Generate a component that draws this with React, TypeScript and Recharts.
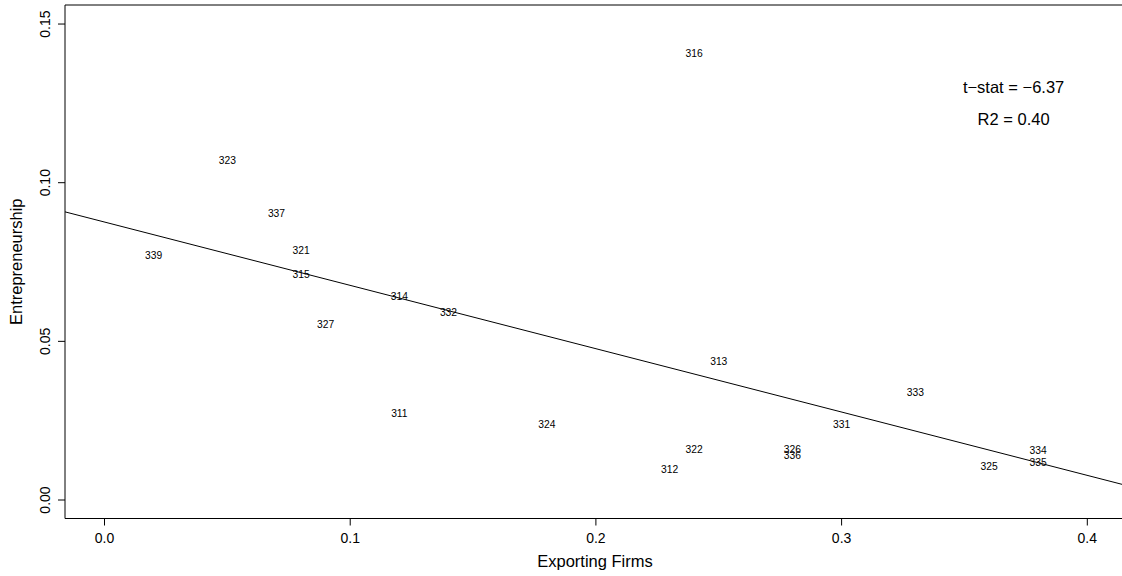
import { ScatterChart, Scatter, XAxis, YAxis, ReferenceLine, ReferenceArea } from 'recharts'

// industry codes, share of exporting firms, entrepreneurship rate
const industries = ['316', '323', '337', '321', '339', '315', '314', '332', '327', '313', '333', '311', '324', '331', '322', '326', '336', '312', '325', '334', '335']
const exporting = [0.24, 0.05, 0.07, 0.08, 0.02, 0.08, 0.12, 0.14, 0.09, 0.25, 0.33, 0.12, 0.18, 0.3, 0.24, 0.28, 0.28, 0.23, 0.36, 0.38, 0.38]
const entrepreneurship = [0.1407, 0.1072, 0.0904, 0.0788, 0.0771, 0.0712, 0.0643, 0.0592, 0.0555, 0.0438, 0.034, 0.0274, 0.024, 0.024, 0.0159, 0.0161, 0.0142, 0.0098, 0.0106, 0.0158, 0.0118]

const xTicks = [0, 0.1, 0.2, 0.3, 0.4]
const yTicks = [0, 0.05, 0.1, 0.15]
// right edge of the box sits past the picture, as in the original
const xDomain: [number, number] = [-0.01608, 0.41575]
const yDomain: [number, number] = [-0.00583, 0.156]

// fitted line
const intercept = 0.0876
const slope = -0.1996

const notes = [
  { x: 0.37, y: 0.13, text: 't\u2212stat = \u22126.37' },
  { x: 0.37, y: 0.12, text: 'R2 = 0.40' },
]

const font = '"Liberation Sans", Arial, sans-serif'

const points = industries.map((label, i) => ({
  x: exporting[i],
  y: entrepreneurship[i],
  label,
}))

const LabelShape = (props: any) => (
  <text x={props.cx} y={props.cy + 3.7} textAnchor="middle" fontSize={10.3} fill="#000" fontFamily={font}>
    {props.payload.label}
  </text>
)

const NoteShape = (props: any) => (
  <text x={props.cx} y={props.cy + 5.8} textAnchor="middle" fontSize={16.5} fill="#000" fontFamily={font}>
    {props.payload.text}
  </text>
)

const XTick = ({ x, y, payload }: any) => (
  <text x={x} y={y + 15.5} textAnchor="middle" fontSize={14} fill="#000" fontFamily={font}>
    {payload.value.toFixed(1)}
  </text>
)

const YTick = ({ x, y, payload }: any) => (
  <text
    x={x - 6}
    y={y}
    transform={`rotate(-90, ${x - 6}, ${y})`}
    textAnchor="middle"
    fontSize={14}
    fill="#000"
    fontFamily={font}
  >
    {payload.value.toFixed(2)}
  </text>
)

export default function App() {
  return (
    <div style={{ position: 'absolute', left: 0, top: 0, width: 1122, height: 576, overflow: 'hidden', background: '#fff' }}>
      <ScatterChart width={1126} height={576} margin={{ top: 5, right: 0, bottom: 0, left: 0 }}>
        <XAxis
          type="number"
          dataKey="x"
          domain={xDomain}
          ticks={xTicks}
          allowDataOverflow
          height={57.5}
          axisLine={false}
          tickLine={{ stroke: '#000' }}
          tickSize={7}
          tickMargin={2}
          tick={<XTick />}
          label={{
            content: () => (
              <text x={595} y={566.5} textAnchor="middle" fontSize={16.5} fill="#000" fontFamily={font}>
                Exporting Firms
              </text>
            ),
          }}
        />
        <YAxis
          type="number"
          dataKey="y"
          domain={yDomain}
          ticks={yTicks}
          allowDataOverflow
          width={65}
          axisLine={false}
          tickLine={{ stroke: '#000' }}
          tickSize={7}
          tickMargin={2}
          tick={<YTick />}
          label={{
            content: (p: any) => {
              const cy = p.viewBox.y + p.viewBox.height / 2
              return (
                <text
                  x={21.5}
                  y={cy}
                  transform={`rotate(-90, 21.5, ${cy})`}
                  textAnchor="middle"
                  fontSize={16.5}
                  fill="#000"
                  fontFamily={font}
                >
                  Entrepreneurship
                </text>
              )
            },
          }}
        />
        <ReferenceArea
          x1={xDomain[0]}
          x2={xDomain[1]}
          y1={yDomain[0]}
          y2={yDomain[1]}
          fill="none"
          stroke="#000"
          strokeWidth={1}
          ifOverflow="visible"
        />
        <ReferenceLine
          segment={[
            { x: xDomain[0], y: intercept + slope * xDomain[0] },
            { x: xDomain[1], y: intercept + slope * xDomain[1] },
          ]}
          stroke="#000"
          strokeWidth={1}
          ifOverflow="visible"
        />
        <Scatter data={points} shape={LabelShape} isAnimationActive={false} />
        <Scatter data={notes} shape={NoteShape} isAnimationActive={false} />
      </ScatterChart>
    </div>
  )
}
